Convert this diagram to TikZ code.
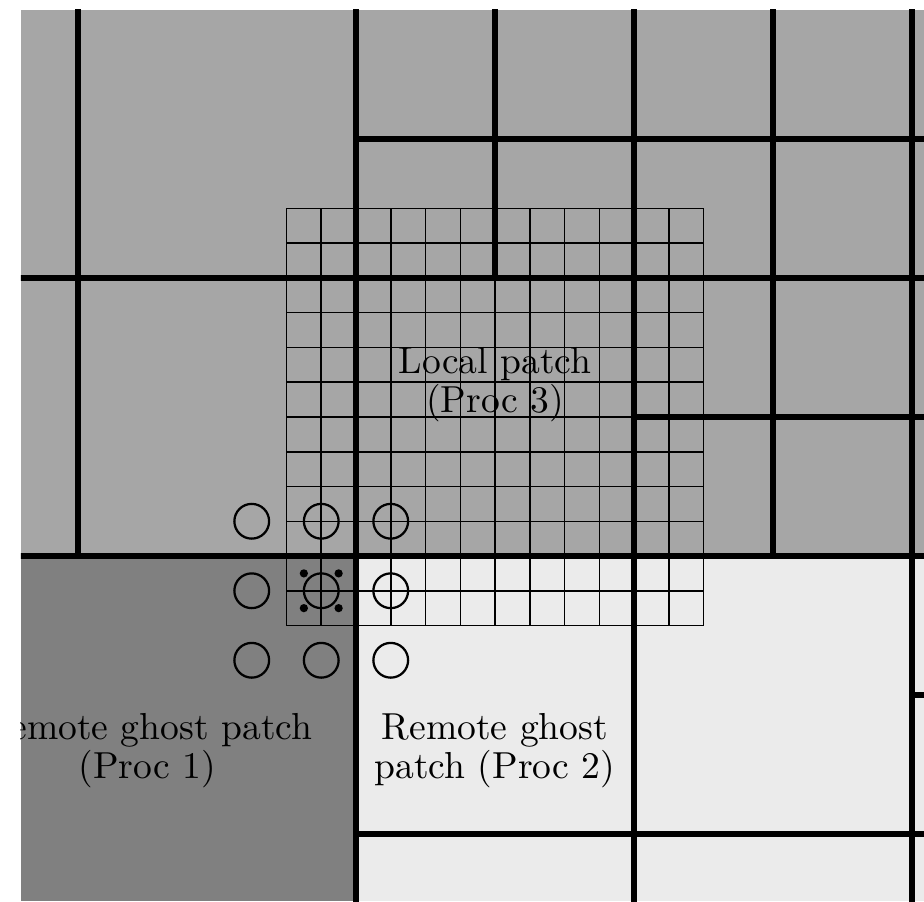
\documentclass[tikz,border=0pt]{standalone}
\usepackage{xcolor}
\usepackage{tikz}
\definecolor{meshgray}{HTML}{A6A6A6}
\definecolor{procone}{HTML}{808080}
\definecolor{proctwo}{HTML}{EBEBEB}
\tikzset{
  coarse/.style={line width=1.7pt},
  fine/.style={line width=0.4pt},
  stencil/.style={line width=0.6pt},
  patchlabel/.style={align=center, inner sep=0pt,
    font=\fontsize{10pt}{9pt}\selectfont}
}

\begin{document}
\begin{tikzpicture}[x=1.3cm, y=1.3cm]
  \useasboundingbox (-2.561,-2.482) rectangle (4.086,4.0);
  \begin{scope}
    \clip (-2.41,-2.482) rectangle (4.086,3.928);
    % processor regions
    \fill[meshgray] (-2.41,-2.482) rectangle (4.086,3.928);
    \fill[procone] (-2.41,-2.482) rectangle (0,0);
    \fill[proctwo] (0,-2.482) rectangle (4.086,0);
    % local patch cells
    \draw[fine, step=0.25] (-0.5,-0.5) grid (2.5,2.5);
    % coarse mesh
    \foreach \x/\ylo in {-2/0, 0/-3, 1/2, 2/-3, 3/0, 4/-3}
      \draw[coarse] (\x,\ylo) -- (\x,4.1);
    \foreach \y/\xlo in {3/0, 2/-3, 1/2, 0/-3, -1/4, -2/0}
      \draw[coarse] (\xlo,\y) -- (4.2,\y);
    % stencil
    \foreach \i in {-0.75,-0.25,0.25}
      \foreach \j in {-0.75,-0.25,0.25}
        \draw[stencil] (\i,\j) circle (0.125);
    \foreach \dx in {-0.125,0.125}
      \foreach \dy in {-0.125,0.125}
        \fill (-0.25+\dx,-0.25+\dy) circle (1.1pt);
    % labels
    \node[patchlabel] (localpatch) at (1,1.23) {Local patch\\(Proc 3)};
    \node[patchlabel] (ghostone) at (-1.5,-1.4) {Remote ghost patch\\(Proc 1)};
    \node[patchlabel] (ghosttwo) at (1,-1.4) {Remote ghost\\patch (Proc 2)};
  \end{scope}
\end{tikzpicture}
\end{document}
